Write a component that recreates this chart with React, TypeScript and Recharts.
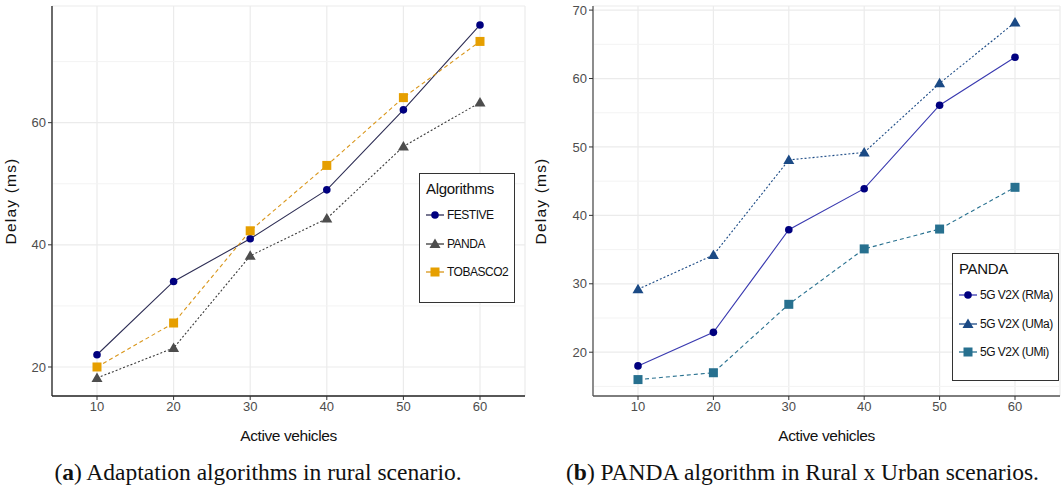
import React from 'react';
import { LineChart, Line, XAxis, YAxis, CartesianGrid, ReferenceLine } from 'recharts';

// x categories (number of active vehicles)
const vehicles = [10, 20, 30, 40, 50, 60];

// (a) adaptation algorithms, rural scenario
const festive = [22, 34, 41, 49, 62.1, 76];
const panda = [18.2, 23.1, 38.2, 44.3, 56.1, 63.3];
const tobasco2 = [20, 27.2, 42.3, 53, 64.1, 73.3];

// (b) PANDA in rural x urban scenarios
const rma = [18, 22.9, 37.9, 43.9, 56.1, 63.1];
const uma = [29.2, 34.2, 48.1, 49.2, 59.3, 68.2];
const umi = [16, 17, 27, 35.1, 38, 44.1];

const leftTicks = [20, 40, 60];
const leftMinor = [30, 50, 70];
const rightTicks = [20, 30, 40, 50, 60, 70];
const rightMinor = [15, 25, 35, 45, 55, 65];

const leftData = vehicles.map((v, i) => ({ v, festive: festive[i], panda: panda[i], tobasco2: tobasco2[i] }));
const rightData = vehicles.map((v, i) => ({ v, rma: rma[i], uma: uma[i], umi: umi[i] }));

type Shape = 'circle' | 'triangle' | 'square';

interface Series {
  key: string;
  name: string;
  shape: Shape;
  color: string;
  line: string;
  dash?: string;
}

const leftSeries: Series[] = [
  { key: 'festive', name: 'FESTIVE', shape: 'circle', color: '#00007f', line: '#2e2e55' },
  { key: 'panda', name: 'PANDA', shape: 'triangle', color: '#4d4d4d', line: '#3a3a3a', dash: '2 2' },
  { key: 'tobasco2', name: 'TOBASCO2', shape: 'square', color: '#e69f00', line: '#d9961a', dash: '4 3' },
];

const rightSeries: Series[] = [
  { key: 'rma', name: '5G V2X (RMa)', shape: 'circle', color: '#00007f', line: '#3a3ab0' },
  { key: 'uma', name: '5G V2X (UMa)', shape: 'triangle', color: '#1b4a85', line: '#1b4a85', dash: '2 2' },
  { key: 'umi', name: '5G V2X (UMi)', shape: 'square', color: '#27708f', line: '#27708f', dash: '4 3' },
];

const sansFont = '"Liberation Sans", Arial, sans-serif';

function Marker({ shape, color, cx, cy }: { shape: Shape; color: string; cx: number; cy: number }) {
  if (shape === 'circle') return <circle cx={cx} cy={cy} r={3.8} fill={color} />;
  if (shape === 'square') return <rect x={cx - 4.5} y={cy - 4.5} width={9} height={9} fill={color} />;
  return <polygon points={`${cx},${cy - 5.5} ${cx - 5.5},${cy + 4} ${cx + 5.5},${cy + 4}`} fill={color} />;
}

function makeDot(s: Series) {
  return (props: any) => {
    const { cx, cy, index } = props;
    if (cx == null || cy == null) return <g key={`${s.key}-${index}`} />;
    return (
      <g key={`${s.key}-${index}`}>
        <Marker shape={s.shape} color={s.color} cx={cx} cy={cy} />
      </g>
    );
  };
}

function LegendBox({ title, series, left, top, width, height }: { title: string; series: Series[]; left: number; top: number; width: number; height: number }) {
  return (
    <div
      style={{
        position: 'absolute',
        left,
        top,
        width,
        height,
        border: '1.5px solid #333',
        background: '#fff',
        padding: '6px 0 0 6px',
        fontFamily: sansFont,
        boxSizing: 'border-box',
        whiteSpace: 'nowrap',
      }}
    >
      <div style={{ fontSize: 15, color: '#111', marginBottom: 4, letterSpacing: -0.3 }}>{title}</div>
      {series.map((s) => (
        <div key={s.key} style={{ display: 'flex', alignItems: 'center', height: 28.5 }}>
          <svg width={18} height={14} style={{ marginRight: 3 }}>
            <line x1={0} y1={7} x2={18} y2={7} stroke={s.line} strokeWidth={1.3} />
            <Marker shape={s.shape} color={s.color} cx={9} cy={7} />
          </svg>
          <span style={{ fontSize: 12, color: '#111', letterSpacing: -0.5 }}>{s.name}</span>
        </div>
      ))}
    </div>
  );
}

const tickStyle = { fill: '#4d4d4d', fontSize: 13, fontFamily: sansFont };

function Panel(props: {
  data: any[];
  series: Series[];
  width: number;
  yWidth: number;
  domain: [number, number];
  ticks: number[];
  minor: number[];
  rightBorder: boolean;
  border: string;
}) {
  const { data, series, width, yWidth, domain, ticks, minor, rightBorder, border } = props;
  return (
    <LineChart width={width} height={447} data={data} margin={{ top: 6, right: rightBorder ? 15 : 1, bottom: 0, left: 0 }}>
      <CartesianGrid stroke="#ebebeb" strokeWidth={1.2} />
      {minor.map((m) => (
        <ReferenceLine key={m} y={m} stroke="#f3f3f3" strokeWidth={1} ifOverflow="hidden" />
      ))}
      <XAxis
        dataKey="v"
        type="category"
        padding={{ left: 45, right: 45 }}
        tick={tickStyle}
        tickLine={{ stroke: '#333' }}
        tickSize={4}
        axisLine={{ stroke: border, strokeWidth: 1.3 }}
        height={51}
        label={{ value: 'Active vehicles', position: 'insideBottom', offset: 6, fill: '#111', fontSize: 15.5, fontFamily: sansFont, letterSpacing: -0.4 }}
      />
      <XAxis xAxisId="top" orientation="top" dataKey="v" height={0} tick={false} tickLine={false} axisLine={{ stroke: border, strokeWidth: 1.3 }} />
      <YAxis
        domain={domain}
        ticks={ticks}
        allowDataOverflow
        type="number"
        width={yWidth}
        tick={tickStyle}
        tickLine={{ stroke: '#333' }}
        tickSize={4}
        axisLine={{ stroke: border, strokeWidth: 1.3 }}
        label={{
          value: 'Delay (ms)',
          angle: -90,
          position: 'insideLeft',
          offset: 10,
          style: { textAnchor: 'middle', fill: '#111', fontSize: 15.5, fontFamily: sansFont, letterSpacing: 1.2 },
        }}
      />
      {rightBorder && (
        <YAxis yAxisId="r" orientation="right" width={0} tick={false} tickLine={false} axisLine={{ stroke: border, strokeWidth: 1.3 }} />
      )}
      {series.map((s) => (
        <Line
          key={s.key}
          dataKey={s.key}
          name={s.name}
          type="linear"
          stroke={s.line}
          strokeWidth={1.1}
          strokeDasharray={s.dash}
          dot={makeDot(s)}
          activeDot={false}
          isAnimationActive={false}
        />
      ))}
    </LineChart>
  );
}

function Caption({ letter, text }: { letter: string; text: string }) {
  return (
    <div style={{ fontFamily: '"Liberation Serif", "DejaVu Serif", serif', fontSize: 23.5, color: '#111', whiteSpace: 'nowrap' }}>
      (<b>{letter}</b>) {text}
    </div>
  );
}

export default function App() {
  return (
    <div style={{ position: 'absolute', left: 0, top: 0, width: 1061, height: 492, background: '#fff', overflow: 'hidden' }}>
      <div style={{ position: 'absolute', left: 0, top: 0 }}>
        <Panel
          data={leftData}
          series={leftSeries}
          width={540}
          yWidth={52}
          domain={[15.25, 79.1]}
          ticks={leftTicks}
          minor={leftMinor}
          rightBorder
          border="#222"
        />
      </div>
      <LegendBox title="Algorithms" series={leftSeries} left={419} top={173} width={96} height={130} />
      <div style={{ position: 'absolute', left: 530, top: 0 }}>
        <Panel
          data={rightData}
          series={rightSeries}
          width={531}
          yWidth={63}
          domain={[13.6, 70.6]}
          ticks={rightTicks}
          minor={rightMinor}
          rightBorder={false}
          border="#555"
        />
      </div>
      <LegendBox title="PANDA" series={rightSeries} left={952} top={253} width={107} height={128} />
      <div style={{ position: 'absolute', left: 0, width: 530, top: 459, display: 'flex', justifyContent: 'center' }}>
        <div style={{ marginLeft: -14 }}>
          <Caption letter="a" text="Adaptation algorithms in rural scenario." />
        </div>
      </div>
      <div style={{ position: 'absolute', left: 544, width: 517, top: 459, display: 'flex', justifyContent: 'center' }}>
        <Caption letter="b" text="PANDA algorithm in Rural x Urban scenarios." />
      </div>
    </div>
  );
}
